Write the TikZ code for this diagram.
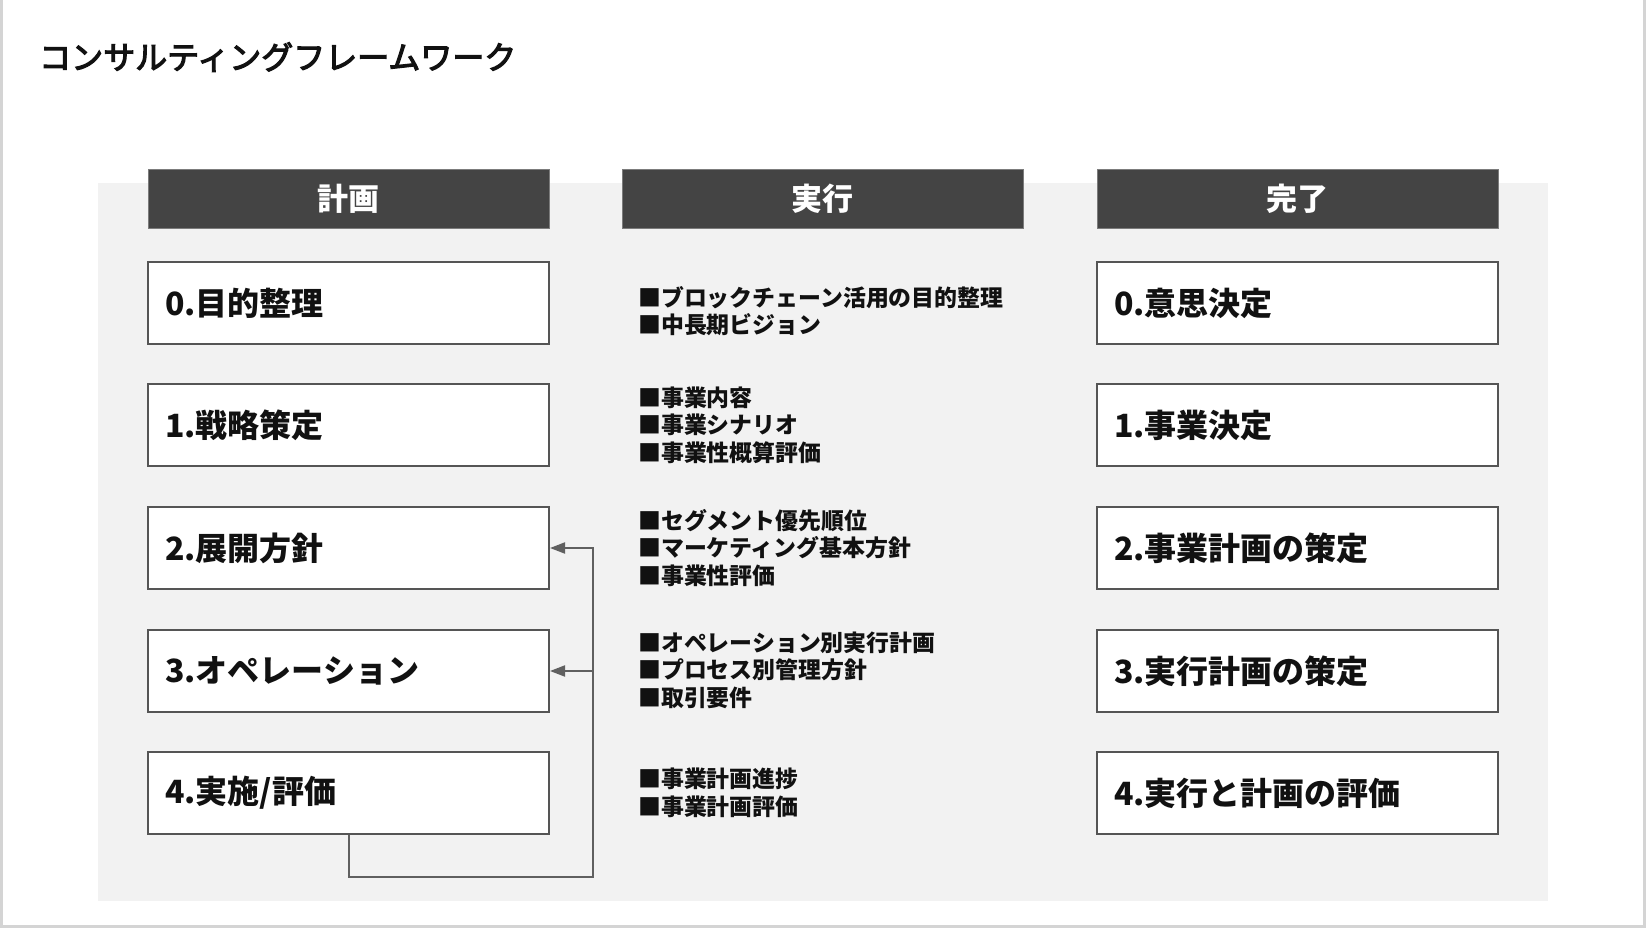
\documentclass[tikz,border=0pt]{standalone}
\usepackage{fontspec}
\setmainfont{Noto Sans CJK JP}
\newfontfamily\titlefont{Noto Sans CJK JP}[FakeBold=3.5]
\usetikzlibrary{arrows.meta}
\definecolor{bgc}{HTML}{F2F2F2}
\definecolor{hdrc}{HTML}{444444}
\definecolor{boxc}{HTML}{555555}
\definecolor{linec}{HTML}{606060}
\definecolor{framec}{HTML}{D4D4D4}
\definecolor{txtc}{HTML}{111111}
\tikzset{
  hdr/.style={fill=hdrc, draw=hdrc!70!white, line width=0.8pt, minimum width=401pt, minimum height=59pt, inner sep=0pt,
    text=white, font=\fontsize{31}{36}\selectfont\bfseries},
  stagebox/.style={fill=white, draw=boxc, line width=2pt, text width=367pt, inner xsep=17pt, inner ysep=0pt,
    minimum height=82pt, align=left, text=txtc, font=\fontsize{32}{38}\selectfont\bfseries},
  midtext/.style={anchor=west, align=left, inner sep=0pt, text=txtc, font=\fontsize{22.9}{27.5}\selectfont\bfseries},
  conn/.style={draw=linec, line width=2pt},
  tip/.style={-{Triangle[length=15pt,width=11pt]}}
}
\begin{document}
\begin{tikzpicture}[x=1pt,y=-1pt]
\useasboundingbox (0,0) rectangle (1646,928);
\fill[white] (0,0) rectangle (1646,928);
\draw[framec, line width=3pt] (1.5,0) -- (1.5,926.5) -- (1644.5,926.5) -- (1644.5,0);
\node[anchor=west, inner sep=0pt, text=txtc, font=\fontsize{32}{36}\titlefont] (title) at (39,57) {コンサルティングフレームワーク};
\fill[bgc] (98,183) rectangle (1548,901);
% headers
\node[hdr] (h1) at (348.5,198.5) {計画};
\node[hdr] (h2) at (822.5,198.5) {実行};
\node[hdr] (h3) at (1297.5,198.5) {完了};
% left boxes
\node[stagebox] (l0) at (348.5,303) {0.目的整理};
\node[stagebox] (l1) at (348.5,425) {1.戦略策定};
\node[stagebox] (l2) at (348.5,548) {2.展開方針};
\node[stagebox] (l3) at (348.5,671) {3.オペレーション};
\node[stagebox] (l4) at (348.5,793) {4.実施/評価};
% right boxes
\node[stagebox] (r0) at (1297.5,303) {0.意思決定};
\node[stagebox] (r1) at (1297.5,425) {1.事業決定};
\node[stagebox] (r2) at (1297.5,548) {2.事業計画の策定};
\node[stagebox] (r3) at (1297.5,671) {3.実行計画の策定};
\node[stagebox] (r4) at (1297.5,793) {4.実行と計画の評価};
% middle texts
\node[midtext] (m0) at (638,311) {■ブロックチェーン活用の目的整理\\■中長期ビジョン};
\node[midtext] (m1) at (638,425) {■事業内容\\■事業シナリオ\\■事業性概算評価};
\node[midtext] (m2) at (638,548) {■セグメント優先順位\\■マーケティング基本方針\\■事業性評価};
\node[midtext] (m3) at (638,670) {■オペレーション別実行計画\\■プロセス別管理方針\\■取引要件};
\node[midtext] (m4) at (638,793) {■事業計画進捗\\■事業計画評価};
% connector
\coordinate (jn) at (593,877);
\draw[conn,tip] (l4.south) |- (jn) |- (l2.east);
\draw[conn,tip] (jn |- l3.east) -- (l3.east);
\end{tikzpicture}
\end{document}
